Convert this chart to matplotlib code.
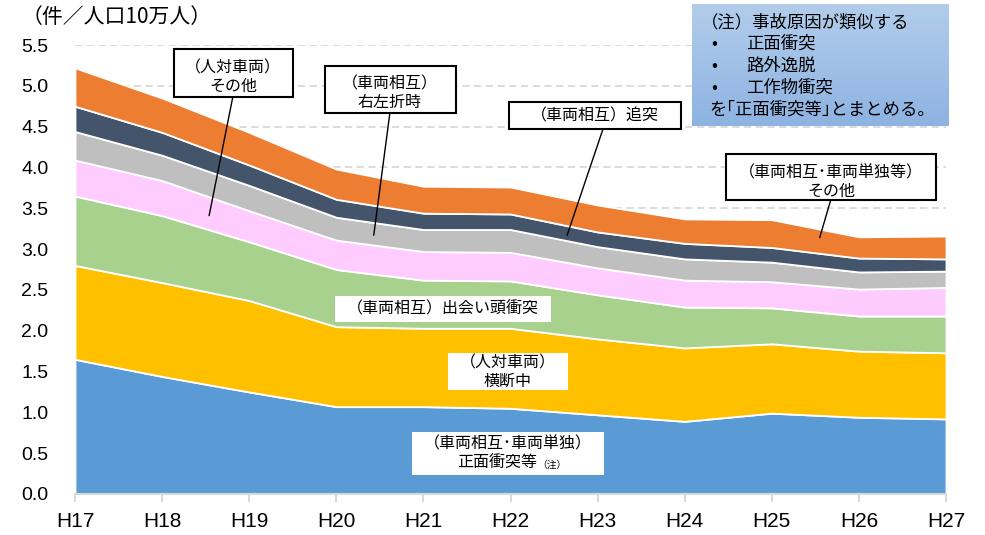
import matplotlib.pyplot as plt
from matplotlib.patches import Rectangle
import numpy as np

plt.rcParams['font.family'] = ['Noto Sans CJK JP', 'DejaVu Sans']

# 件／人口10万人, 下から順に積み上げ
years = ['H17', 'H18', 'H19', 'H20', 'H21', 'H22', 'H23', 'H24', 'H25', 'H26', 'H27']
frontal = [1.65, 1.44, 1.25, 1.07, 1.07, 1.05, 0.97, 0.89, 0.99, 0.94, 0.92]    # 正面衝突等
crossing = [1.15, 1.15, 1.12, 0.98, 0.96, 0.98, 0.93, 0.90, 0.85, 0.81, 0.81]   # 人対車両 横断中
encounter = [0.85, 0.82, 0.72, 0.70, 0.59, 0.58, 0.54, 0.50, 0.44, 0.43, 0.45]  # 出会い頭衝突
ped_other = [0.44, 0.43, 0.38, 0.36, 0.35, 0.35, 0.33, 0.33, 0.32, 0.33, 0.35]  # 人対車両 その他
turning = [0.35, 0.31, 0.31, 0.28, 0.27, 0.28, 0.26, 0.26, 0.24, 0.21, 0.20]    # 右左折時
rear_end = [0.31, 0.28, 0.25, 0.22, 0.20, 0.19, 0.18, 0.19, 0.18, 0.17, 0.15]   # 追突
veh_other = [0.47, 0.42, 0.40, 0.37, 0.33, 0.33, 0.33, 0.30, 0.34, 0.26, 0.28]  # 車両 その他

colors = ['#5b9bd5', '#ffc000', '#a9d18e', '#ffccff', '#bfbfbf', '#44546a', '#ed7d31']

W, H = 985, 535


def fx(px):
    return px / W


def fy(py):
    return 1 - py / H


fig = plt.figure(figsize=(W / 100, H / 100), dpi=100)
ax = fig.add_axes([fx(75), fy(494), 871 / W, 449 / H])

x = np.arange(len(years))
ax.stackplot(x, frontal, crossing, encounter, ped_other, turning, rear_end, veh_other,
             colors=colors, edgecolor='white', linewidth=1.3)

ax.set_xlim(0, len(years) - 1)
ax.set_ylim(0, 5.5)
yt = np.arange(0, 5.51, 0.5)
ax.set_yticks(yt)
ax.set_yticklabels([f'{v:.1f}' for v in yt], family='Liberation Sans')
ax.set_xticks(x)
ax.set_xticklabels(years, family='Liberation Sans')
ax.yaxis.grid(True, linestyle=(0, (4, 2.5)), color='#d9d9d9', lw=1.3)
ax.set_axisbelow(True)
for s in ['left', 'top', 'right']:
    ax.spines[s].set_visible(False)
ax.spines['bottom'].set_color('#d9d9d9')
ax.spines['bottom'].set_linewidth(1.5)
ax.tick_params(axis='y', length=0, pad=19, labelsize=14)
ax.tick_params(axis='x', length=6, width=1.5, color='#d9d9d9', pad=7, labelsize=15)

fig.text(fx(22), fy(17), '（件／人口10万人）', fontsize=15, ha='left', va='center')

# 注の箱 (グラデーション)
nax = fig.add_axes([fx(692), fy(126), 256 / W, 122 / H])
grad = np.linspace(0, 1, 100).reshape(-1, 1)
top_c = np.array([0xb2, 0xcd, 0xeb]) / 255
bot_c = np.array([0x8e, 0xb3, 0xe2]) / 255
img = top_c[None, None, :] * (1 - grad[:, :, None]) + bot_c[None, None, :] * grad[:, :, None]
nax.imshow(img, aspect='auto', extent=[0, 1, 0, 1])
nax.axis('off')

note_lines = [(701, 22, '（注）事故原因が類似する'),
              (711, 44, '•'), (746, 44, '正面衝突'),
              (711, 66, '•'), (746, 66, '路外逸脱'),
              (711, 88, '•'), (746, 88, '工作物衝突'),
              (709, 110, 'を｢正面衝突等｣とまとめる。')]
for px, py, t in note_lines:
    fig.text(fx(px), fy(py), t, fontsize=12.5, ha='left', va='center')


def box(x0, y0, x1, y1, edge=True):
    fig.add_artist(Rectangle((fx(x0), fy(y1)), (x1 - x0) / W, (y1 - y0) / H,
                             transform=fig.transFigure, facecolor='white',
                             edgecolor='black' if edge else 'none', lw=1.5))


def label(cx, cy, t, size=11.5):
    fig.text(fx(cx), fy(cy), t, fontsize=size, ha='center', va='center',
             multialignment='center', linespacing=1.1)


def leader(px, py, xd, yd):
    ax.annotate('', xy=(xd, yd), xycoords='data',
                xytext=(fx(px), fy(py)), textcoords='figure fraction',
                arrowprops=dict(arrowstyle='-', color='black', lw=1,
                                shrinkA=0, shrinkB=0))


# 引き出し線付きの箱
leader(233, 96, 1.54, 3.41)
box(174, 49, 293, 97)
label(233, 77, '（人対車両）\nその他')

leader(390, 112, 3.43, 3.17)
box(325, 66, 456, 113)
label(390, 93, '（車両相互）\n右左折時')

leader(603, 129, 5.65, 3.17)
box(509, 102, 681, 129)
label(595, 116, '（車両相互）追突')

leader(831, 199, 8.55, 3.14)
box(726, 154, 936, 200)
label(831, 182, '（車両相互･車両単独等）\nその他')

# 枠なしの白い箱
box(335, 296, 551, 322, edge=False)
label(443, 309, '（車両相互）出会い頭衝突')

box(448, 353, 568, 390, edge=False)
label(508, 372, '（人対車両）\n横断中')

box(412, 432, 604, 475, edge=False)
label(508, 444, '（車両相互･車両単独）')
fig.text(fx(537), fy(463), '正面衝突等', fontsize=11.5, ha='right', va='center')
fig.text(fx(537), fy(465), '（注）', fontsize=7, ha='left', va='center')

fig.savefig('out.png', dpi=100)
